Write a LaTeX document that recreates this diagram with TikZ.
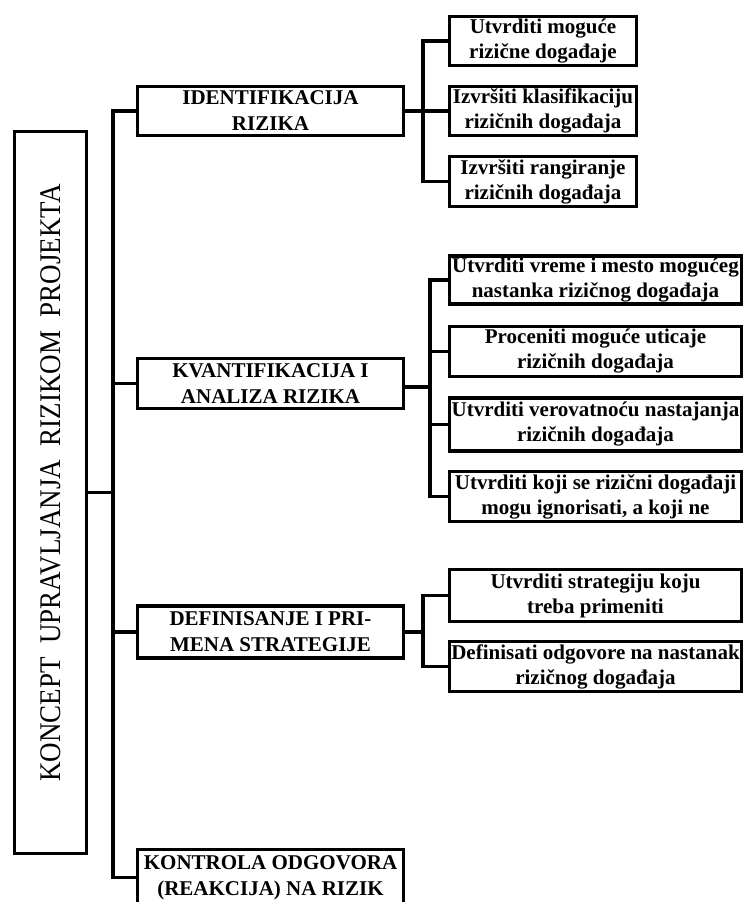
\documentclass[tikz,border=0pt]{standalone}
\usepackage{fontspec}
\setmainfont{Liberation Serif}
\usetikzlibrary{calc}
\tikzset{
	mainbox/.style={draw, line width=3.5pt, minimum width=72pt, minimum height=722pt, inner sep=0pt},
	stagebox/.style={draw, line width=3.5pt, minimum width=266pt, inner sep=0pt, align=center, font=\fontsize{21}{26}\selectfont\bfseries},
	taskbox/.style={draw, line width=3.5pt, inner sep=0pt, align=center, font=\fontsize{21}{25}\selectfont\bfseries},
	link/.style={line width=3.5pt}
}

\begin{document}
\begin{tikzpicture}[x=1pt, y=-1pt]
		%%%%% START %%%%%
		\useasboundingbox (0, 0) rectangle (746, 902);
		
		\node[mainbox] (koncept) at (50.5, 492.5) {};
		\node[rotate=90, inner sep=0pt, font=\fontsize{30}{30}\selectfont] (kopis) at (51, 483) {\scalebox{0.9}[1]{KONCEPT\ \ UPRAVLJANJA\ \ RIZIKOM\ \ PROJEKTA}};
		
		\node[stagebox, minimum height=49pt] (ident) at (270.5, 111) {IDENTIFIKACIJA\\RIZIKA};
		\node[stagebox, minimum height=50pt] (kvant) at (270.5, 383.5) {KVANTIFIKACIJA I\\ANALIZA RIZIKA};
		\node[stagebox, minimum height=52pt] (defin) at (270.5, 632) {DEFINISANJE I PRI-\\MENA STRATEGIJE};
		\node[stagebox, minimum height=56pt] (kontr) at (270.5, 877.5) {KONTROLA ODGOVORA\\(REAKCIJA) NA RIZIK};
		
		\node[taskbox, minimum width=187pt, minimum height=49pt] (s11) at (543, 41) {Utvrditi moguće\\rizične događaje};
		\node[taskbox, minimum width=187pt, minimum height=49pt] (s12) at (543, 111) {Izvršiti klasifikaciju\\rizičnih događaja};
		\node[taskbox, minimum width=187pt, minimum height=50pt] (s13) at (543, 181.5) {Izvršiti rangiranje\\rizičnih događaja};
		
		\node[taskbox, minimum width=292pt, minimum height=48pt] (s21) at (595.5, 280) {Utvrditi vreme i mesto mogućeg\\nastanka rizičnog događaja};
		\node[taskbox, minimum width=292pt, minimum height=50pt] (s22) at (595.5, 351.5) {Proceniti moguće uticaje\\rizičnih događaja};
		\node[taskbox, minimum width=292pt, minimum height=53pt] (s23) at (595.5, 424.5) {Utvrditi verovatnoću nastajanja\\rizičnih događaja};
		\node[taskbox, minimum width=292pt, minimum height=50pt] (s24) at (595.5, 496.5) {Utvrditi koji se rizični događaji\\mogu ignorisati, a koji ne};
		
		\node[taskbox, minimum width=292pt, minimum height=52pt] (s31) at (595.5, 595.5) {Utvrditi strategiju koju\\treba primeniti};
		\node[taskbox, minimum width=292pt, minimum height=50pt] (s32) at (595.5, 666.5) {Definisati odgovore na nastanak\\rizičnog događaja};
		
		\coordinate (trunk) at (113, 492.5);
		\coordinate (fork1) at (423, 111);
		\coordinate (fork2) at (430, 387);
		\coordinate (fork3) at (423, 632);
		
		\draw[link] (koncept.east) -- (trunk);
		\draw[link] (ident.west) -| (trunk) |- (kontr.west);
		\draw[link] (kvant.west) -- (kvant.west -| trunk);
		\draw[link] (defin.west) -- (defin.west -| trunk);
		
		\draw[link] (ident.east) -- (fork1);
		\draw[link] (s11.west) -| (fork1) |- (s13.west);
		\draw[link] (s12.west) -- (s12.west -| fork1);
		
		\draw[link] (kvant.east |- fork2) -- (fork2);
		\draw[link] (s21.west) -| (fork2) |- (s24.west);
		\draw[link] (s22.west) -- (s22.west -| fork2);
		\draw[link] (s23.west) -- (s23.west -| fork2);
		
		\draw[link] (defin.east) -- (fork3);
		\draw[link] (s31.west) -| (fork3) |- (s32.west);
		%%%%% END %%%%%
	\end{tikzpicture}
\end{document}
